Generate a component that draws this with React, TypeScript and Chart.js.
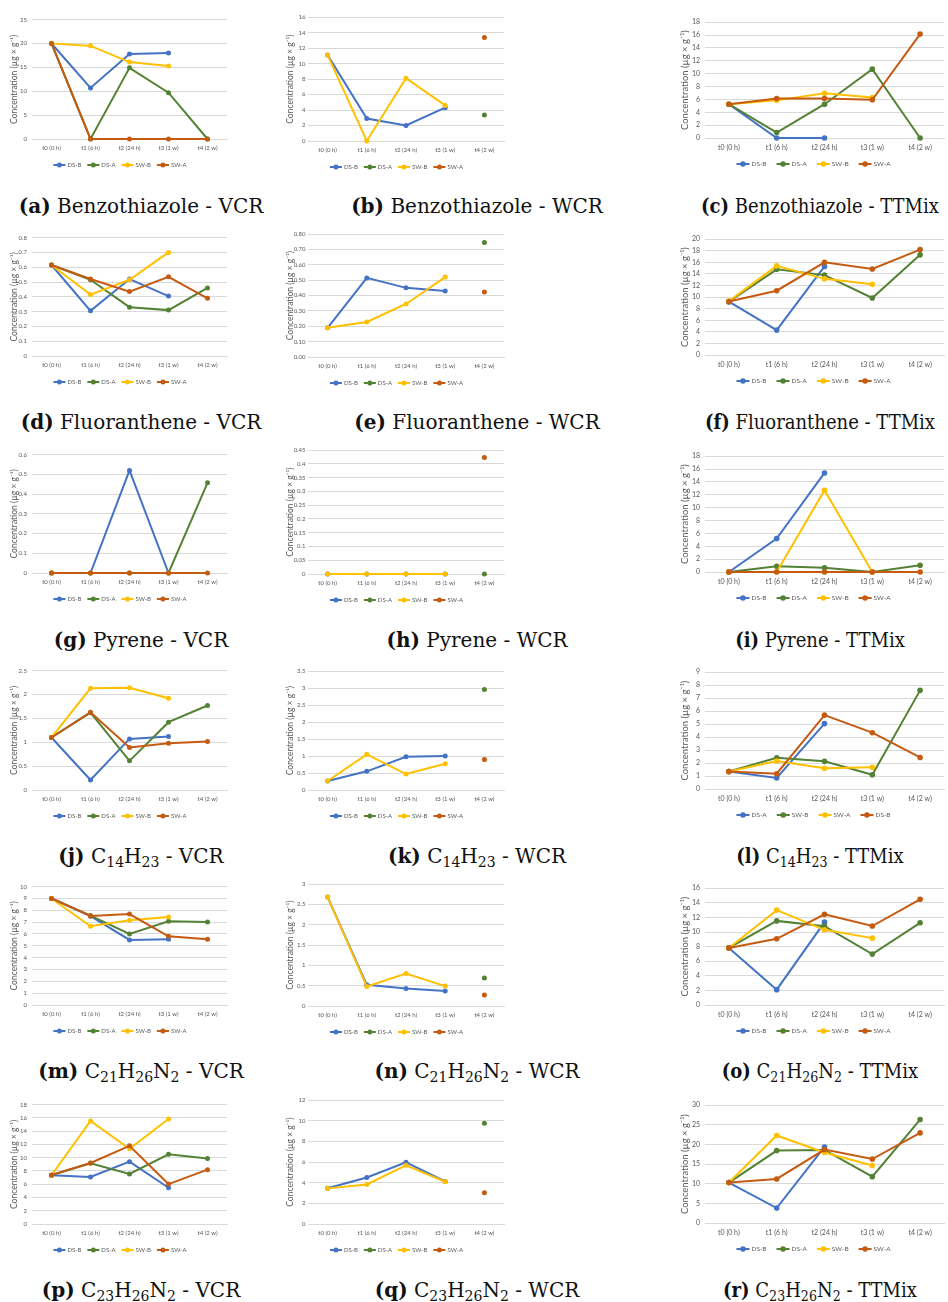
import React, { useEffect, useRef } from "react";
import Chart from "chart.js/auto";

const categories = ["t0 (0 h)", "t1 (6 h)", "t2 (24 h)", "t3 (1 w)", "t4 (2 w)"];
const seriesNames = ["DS-B", "DS-A", "SW-B", "SW-A"];
const seriesNamesC14TTMix = ["DS-A", "SW-B", "SW-A", "DS-B"];
const seriesColors = ["#4472C4", "#548235", "#FFC000", "#C55A11"];

// each chart: [DS-B, DS-A, SW-B, SW-A] (colour order blue, green, yellow, orange)
const benzothiazoleVCR = [
  [20, 10.7, 17.8, 18.0, null],
  [20, 0, 14.9, 9.7, 0],
  [20, 19.5, 16.1, 15.3, null],
  [20, 0, 0, 0, 0],
];
const benzothiazoleWCR = [
  [11.1, 2.9, 2.0, 4.3, null],
  [null, null, null, null, 3.35],
  [11.1, 0, 8.1, 4.6, null],
  [null, null, null, null, 13.35],
];
const benzothiazoleTTMix = [
  [5.25, 0, 0, null, null],
  [5.25, 0.85, 5.25, 10.7, 0],
  [5.25, 5.85, 6.95, 6.3, null],
  [5.25, 6.15, 6.15, 5.95, 16.15],
];
const fluorantheneVCR = [
  [0.615, 0.305, 0.52, 0.405, null],
  [0.615, 0.515, 0.33, 0.31, 0.46],
  [0.615, 0.415, 0.515, 0.7, null],
  [0.615, 0.52, 0.435, 0.535, 0.39],
];
const fluorantheneWCR = [
  [0.19, 0.515, 0.45, 0.43, null],
  [null, null, null, null, 0.745],
  [0.19, 0.228, 0.345, 0.52, null],
  [null, null, null, null, 0.423],
];
const fluorantheneTTMix = [
  [9.2, 4.3, 15.3, null, null],
  [9.2, 14.8, 13.8, 9.85, 17.3],
  [9.3, 15.4, 13.15, 12.2, null],
  [9.25, 11.1, 16.0, 14.85, 18.2],
];
const pyreneVCR = [
  [0, 0, 0.52, 0, null],
  [0, 0, 0, 0, 0.457],
  [0, 0, 0, 0, null],
  [0, 0, 0, 0, 0],
];
const pyreneWCR = [
  [0, 0, 0, 0, null],
  [null, null, null, null, 0],
  [0, 0, 0, 0, null],
  [null, null, null, null, 0.423],
];
const pyreneTTMix = [
  [0, 5.2, 15.4, null, null],
  [0, 0.9, 0.65, 0, 1.05],
  [0, 0, 12.7, 0, null],
  [0, 0, 0, 0, 0],
];
const c14h23VCR = [
  [1.1, 0.21, 1.07, 1.12, null],
  [1.1, 1.62, 0.61, 1.42, 1.77],
  [1.1, 2.13, 2.14, 1.92, null],
  [1.1, 1.63, 0.89, 0.98, 1.015],
];
const c14h23WCR = [
  [0.265, 0.55, 0.98, 1.0, null],
  [null, null, null, null, 2.96],
  [0.265, 1.05, 0.47, 0.775, null],
  [null, null, null, null, 0.9],
];
const c14h23TTMix = [
  [1.35, 0.85, 5.04, null, null],
  [1.35, 2.41, 2.13, 1.1, 7.6],
  [1.35, 2.16, 1.6, 1.68, null],
  [1.35, 1.18, 5.69, 4.34, 2.43],
];
const c21h26n2VCR = [
  [9.0, 7.5, 5.5, 5.55, null],
  [9.0, 7.55, 6.0, 7.07, 7.02],
  [9.0, 6.65, 7.15, 7.43, null],
  [9.0, 7.52, 7.68, 5.8, 5.55],
];
const c21h26n2WCR = [
  [2.68, 0.52, 0.43, 0.37, null],
  [null, null, null, null, 0.69],
  [2.68, 0.48, 0.8, 0.49, null],
  [null, null, null, null, 0.27],
];
const c21h26n2TTMix = [
  [7.82, 2.1, 11.35, null, null],
  [7.82, 11.52, 10.8, 6.97, 11.26],
  [7.82, 13.0, 10.3, 9.16, null],
  [7.82, 9.07, 12.42, 10.82, 14.48],
];
const c23h26n2VCR = [
  [7.35, 7.1, 9.4, 5.47, null],
  [7.35, 9.17, 7.54, 10.5, 9.86],
  [7.35, 15.53, 11.34, 15.83, null],
  [7.4, 9.2, 11.78, 6.02, 8.19],
];
const c23h26n2WCR = [
  [3.47, 4.5, 5.98, 4.12, null],
  [null, null, null, null, 9.75],
  [3.45, 3.83, 5.69, 4.09, null],
  [null, null, null, null, 3.02],
];
const c23h26n2TTMix = [
  [10.3, 3.8, 19.37, null, null],
  [10.3, 18.45, 18.6, 11.8, 26.35],
  [10.3, 22.28, 17.95, 14.63, null],
  [10.3, 11.22, 18.7, 16.29, 22.94],
];

const panelData = [
  benzothiazoleVCR, benzothiazoleWCR, benzothiazoleTTMix,
  fluorantheneVCR, fluorantheneWCR, fluorantheneTTMix,
  pyreneVCR, pyreneWCR, pyreneTTMix,
  c14h23VCR, c14h23WCR, c14h23TTMix,
  c21h26n2VCR, c21h26n2WCR, c21h26n2TTMix,
  c23h26n2VCR, c23h26n2WCR, c23h26n2TTMix,
];
const yMax = [25, 16, 18, 0.8, 0.8, 20, 0.6, 0.45, 18, 2.5, 3.5, 9, 10, 3, 16, 18, 12, 30];
const yStep = [5, 2, 2, 0.1, 0.1, 2, 0.1, 0.05, 2, 0.5, 0.5, 1, 1, 0.5, 2, 2, 2, 5];
const yFixedDecimals = [-1, -1, -1, -1, 2, -1, -1, -1, -1, -1, -1, -1, -1, -1, -1, -1, -1, -1];

const compounds = ["Benzothiazole", "Fluoranthene", "Pyrene", "C14H23", "C21H26N2", "C23H26N2"];
const conditions = ["VCR", "WCR", "TTMix"];
const letters = "abcdefghijklmnopqr".split("");
const yTitle = "Concentration (µg × g⁻¹)";

// ---- layout (positions in page pixels) ----
const colPlotLeft = [32, 308, 705];
const colPlotRight = [231, 508, 948];
const colTickPad = [5, 2.5, 5];
const plotTop = [17, 17, 19, 235, 234, 236, 452, 450, 453, 668, 671, 669, 884, 884, 885, 1102, 1100, 1102];
const plotBottom = [139, 141, 138, 356, 357, 355, 573, 574, 572, 790, 790, 789, 1005, 1006, 1005, 1224, 1224, 1223];
const captionY = [206, 422, 640, 856, 1071, 1290];
const captionX = [141, 477, 820];
const captionScaleX = [1, 1, 0.9];

const FONT = "Lato, 'Open Sans', sans-serif";
const small = { axisW: 23, tickFont: 6, titleFont: 8.5, xPad: 5, xH: 14, legendFont: 6, legendDy: 26, lineLen: 12, gap: 2, spacing: 6, pointR: 2.5, lineW: 2 };
const large = { axisW: 26, tickFont: 7, titleFont: 9.5, xPad: 6, xH: 16, legendFont: 6.5, legendDy: 26, lineLen: 13, gap: 2, spacing: 10, pointR: 2.8, lineW: 2 };
const PAD_TOP = 6;

const legendPlugin = {
  id: "xlLegend",
  afterDraw(chart: any, _args: any, opts: any) {
    const ctx = chart.ctx;
    const ds = chart.data.datasets;
    ctx.save();
    ctx.font = `${opts.size}px ${FONT}`;
    const widths = ds.map((d: any) => ctx.measureText(d.label).width);
    let total = 0;
    widths.forEach((w: number) => (total += opts.lineLen + opts.gap + w));
    total += opts.spacing * (ds.length - 1);
    let x = chart.width / 2 - total / 2;
    const y = chart.chartArea.bottom + opts.dy;
    ds.forEach((d: any, i: number) => {
      ctx.strokeStyle = d.borderColor;
      ctx.lineWidth = opts.lineW;
      ctx.beginPath();
      ctx.moveTo(x, y);
      ctx.lineTo(x + opts.lineLen, y);
      ctx.stroke();
      ctx.fillStyle = d.borderColor;
      ctx.beginPath();
      ctx.arc(x + opts.lineLen / 2, y, opts.r, 0, Math.PI * 2);
      ctx.fill();
      ctx.fillStyle = "#595959";
      ctx.textAlign = "left";
      ctx.textBaseline = "middle";
      ctx.fillText(d.label, x + opts.lineLen + opts.gap, y);
      x += opts.lineLen + opts.gap + widths[i] + opts.spacing;
    });
    ctx.restore();
  },
};

function Panel({ idx }: { idx: number }) {
  const ref = useRef<HTMLCanvasElement>(null);
  const col = idx % 3;
  const st = col === 2 ? large : small;
  const pl = colPlotLeft[col];
  const pr = colPlotRight[col];
  const pt = plotTop[idx];
  const pb = plotBottom[idx];
  const padBottom = st.legendDy + 8 - st.xH;
  const left = pl - st.axisW;
  const top = pt - PAD_TOP;
  const w = st.axisW + (pr - pl);
  const h = PAD_TOP + (pb - pt) + st.xH + padBottom;

  useEffect(() => {
    const names = idx === 11 ? seriesNamesC14TTMix : seriesNames;
    const datasets = panelData[idx].map((vals, i) => ({
      label: names[i],
      data: vals,
      borderColor: seriesColors[i],
      backgroundColor: seriesColors[i],
      pointBackgroundColor: seriesColors[i],
      pointBorderColor: seriesColors[i],
      pointRadius: st.pointR,
      pointBorderWidth: 0,
      borderWidth: st.lineW,
      tension: 0,
      spanGaps: false,
      clip: false,
      order: 3 - i,
    }));
    const dec = yFixedDecimals[idx];
    const chart = new Chart(ref.current as HTMLCanvasElement, {
      type: "line",
      data: { labels: categories, datasets },
      plugins: [legendPlugin as any],
      options: {
        responsive: false,
        animation: false,
        devicePixelRatio: 1,
        layout: { padding: { top: PAD_TOP, left: 0, right: 0, bottom: padBottom } },
        plugins: {
          legend: { display: false },
          tooltip: { enabled: false },
          xlLegend: {
            size: st.legendFont,
            lineLen: st.lineLen,
            gap: st.gap,
            spacing: st.spacing,
            dy: st.legendDy,
            lineW: st.lineW,
            r: st.pointR,
          },
        } as any,
        scales: {
          x: {
            type: "category",
            offset: true,
            grid: { display: false, drawTicks: false },
            border: { display: true, color: "#D9D9D9", width: 1 },
            ticks: {
              font: { family: FONT, size: st.tickFont },
              color: "#595959",
              padding: st.xPad,
              maxRotation: 0,
              autoSkip: false,
            },
            afterFit: (s: any) => {
              s.height = st.xH;
            },
          },
          y: {
            min: 0,
            max: yMax[idx],
            ticks: {
              stepSize: yStep[idx],
              font: { family: FONT, size: st.tickFont },
              color: "#595959",
              padding: colTickPad[col],
              callback: (v: any) => (dec >= 0 ? Number(v).toFixed(dec) : String(Number(Number(v).toFixed(4)))),
            },
            grid: { color: "#D9D9D9", drawTicks: false, lineWidth: 1 },
            border: { display: false },
            title: {
              display: true,
              text: yTitle,
              color: "#595959",
              font: { family: FONT, size: st.titleFont },
              padding: { top: 0, bottom: 0 },
            },
            afterFit: (s: any) => {
              s.width = st.axisW;
            },
          },
        },
      } as any,
    });
    return () => chart.destroy();
  }, [idx]);

  return (
    <canvas
      ref={ref}
      width={w}
      height={h}
      style={{ position: "absolute", left, top, width: w, height: h }}
    />
  );
}

function CompoundName({ name }: { name: string }) {
  const parts = name.split(/(\d+)/).filter((p) => p.length > 0);
  return (
    <>
      {parts.map((p, i) =>
        /^\d+$/.test(p) ? (
          <sub key={i} style={{ fontSize: "0.7em", verticalAlign: "-0.3em", lineHeight: 0 }}>
            {p}
          </sub>
        ) : (
          <span key={i}>{p}</span>
        )
      )}
    </>
  );
}

export default function App() {
  const idxs = Array.from({ length: 18 }, (_, i) => i);
  return (
    <div
      style={{
        position: "absolute",
        left: 0,
        top: 0,
        width: 948,
        height: 1302,
        overflow: "hidden",
        background: "#ffffff",
      }}
    >
      {idxs.map((i) => (
        <Panel key={i} idx={i} />
      ))}
      {idxs.map((i) => {
        const row = Math.floor(i / 3);
        const col = i % 3;
        return (
          <div
            key={"c" + i}
            style={{
              position: "absolute",
              left: captionX[col],
              top: captionY[row] - 12,
              transform: `translateX(-50%) scaleX(${captionScaleX[col]})`,
              fontFamily: "'DejaVu Serif', serif",
              fontSize: 20,
              lineHeight: "24px",
              whiteSpace: "nowrap",
              color: "#111",
            }}
          >
            <b>({letters[i]})</b> <CompoundName name={compounds[row]} /> - {conditions[col]}
          </div>
        );
      })}
    </div>
  );
}
